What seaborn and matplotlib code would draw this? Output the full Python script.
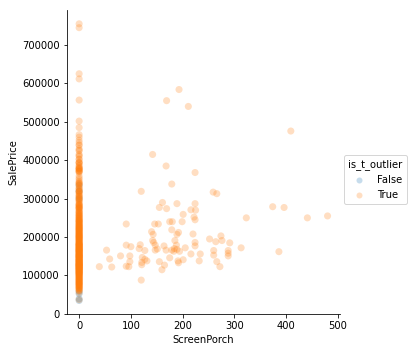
import numpy as np
import pandas as pd
import matplotlib
matplotlib.use("Agg")
import matplotlib.pyplot as plt
import seaborn as sns

# Houses with a screen porch (ScreenPorch > 0), all flagged True
porch_x = [168, 224, 179, 120, 259, 266, 161, 189, 224, 155,
           169, 216, 225, 374, 396, 201, 222, 224, 323, 441,
           480, 91, 146, 153, 175, 180, 199, 179, 140, 192,
           220, 143, 189, 252, 274, 264, 276, 142, 144, 185,
           224, 291, 91, 118, 100, 147, 164, 188, 224, 313,
           53, 116, 127, 147, 168, 179, 189, 194, 205, 183,
           151, 260, 234, 216, 260, 288, 288, 288, 386, 80,
           59, 98, 122, 127, 131, 121, 121, 98, 155, 165,
           175, 192, 201, 232, 266, 272, 39, 63, 91, 96,
           160, 120, 191, 184,
           142, 169, 193, 211, 409]
porch_price = [385000, 368000, 338000, 319000, 317000, 313000, 290000, 287000, 287000, 277000,
               274000, 271000, 270000, 279000, 277000, 259000, 252000, 245000, 250000, 250000,
               255000, 234000, 234000, 234000, 240000, 240000, 240000, 219000, 214000, 212000,
               208000, 207000, 207000, 195000, 203000, 188000, 191000, 191000, 186000, 191000,
               186000, 185000, 179000, 180000, 175000, 179000, 177000, 179000, 177000, 172000,
               166000, 170000, 165000, 166000, 166000, 166000, 168000, 163000, 172000, 163000,
               169000, 165000, 156000, 156000, 153000, 165000, 158000, 151000, 162000, 151000,
               143000, 151000, 147000, 142000, 138000, 134000, 128000, 136000, 136000, 127000,
               146000, 133000, 141000, 138000, 136000, 123000, 123000, 122000, 124000, 123000,
               115000, 88000, 138000, 170000,
               415000, 555000, 584000, 540000, 476000]

# Houses without a screen porch (ScreenPorch == 0), flagged True
zero_true_price = [
    755000, 745000, 625000, 611657, 556581, 501837, 485000, 466500, 460000, 451950,
    446261, 440000, 438780, 430000, 426000, 424870, 415298, 412500, 410000, 402861,
    402000, 395192, 394617, 392500, 392000, 386250, 385000, 381000, 380000, 378500,
    377500, 377426, 375000, 372500, 372402, 370878, 369900, 367294, 359100, 354000,
    350000, 345000, 342643, 340000, 339750, 337500, 335000, 332000, 328000, 326000,
    325000, 320000, 319900, 318000, 317000, 315000, 312000, 310000, 307000, 305000,
    302000, 300000, 297000, 295000, 293000, 290000, 287000, 285000, 284000, 282000,
    280000, 278000, 277500, 275000, 274900, 272000, 270000, 268000, 266000, 265000,
    262500, 260000, 258000, 256300, 255000, 253000, 250000, 249700, 248000, 245000,
    244000, 243000, 241500, 240000, 239000, 238000, 235000, 234000, 233000, 231500,
    230000, 228500, 228000, 226000, 225000, 223500, 223000, 221000, 220000, 219500,
    218000, 216500, 215000, 214000, 213000, 211000, 210000, 208500, 208000, 207500,
    205000, 204000, 203000, 202500, 201000, 200000, 198500, 198000, 196500, 195000,
    194500, 193000, 192000, 190000, 189000, 188000, 186000, 185000, 184000, 183000,
    181500, 181000, 180000, 179900, 179000, 178000, 177000, 176000, 175000, 174000,
    173000, 172500, 171000, 170000, 169500, 168500, 168000, 167000, 166000, 165000,
    164500, 163500, 163000, 162000, 161000, 160000, 159000, 158000, 157000, 156000,
    155000, 154000, 153500, 153000, 152000, 151000, 150000, 149000, 148500, 148000,
    147000, 146000, 145000, 144000, 143000, 142500, 141000, 140000, 139400, 139000,
    138000, 137000, 136500, 135500, 135000, 134000, 133000, 132000, 131000, 130000,
    129900, 129500, 128500, 128000, 127000, 126500, 125500, 125000, 124000, 123500,
    123000, 122000, 121000, 120000, 119000, 118500, 118000, 117000, 116000, 115000,
    114500, 113000, 112000, 111000, 110000, 109000, 108000, 107500, 106000, 105000,
    104000, 103000, 102000, 100000, 99000, 98000, 97000, 95000, 94000, 93000,
    91000, 90000, 88000, 87000, 85000, 84000, 83000, 82000, 80000, 79000,
    78000, 76500, 75000, 73000, 72000, 70000, 68500, 67000, 65000, 62383,
    61000, 60000, 55000, 37000,
    305900, 298000, 283000, 276000, 263000, 257500, 252000, 247000, 242000, 237000,
    232000, 227000, 222500, 217500, 212500, 206000, 201500, 197000, 191500, 187000,
    182000, 178500, 174500, 171500, 167500, 164000, 161500, 157500, 154500, 151500,
    149500, 146500, 143500, 140500, 137500, 134500, 131500, 128800, 126000, 124500,
    121500, 119500, 116500, 114000, 111500, 109500, 106500, 103500, 101000, 96500,
    92000, 89000, 86000, 81000, 77000, 74000, 69000, 66000,
]

# Houses without a screen porch, flagged False
zero_false_price = [34900, 39300, 52500, 58500, 301000, 320000, 335000]

hue_order = ["False", "True"]
palette = {"False": "#1f77b4", "True": "#ff7f0e"}

df = pd.concat([
    pd.DataFrame({"ScreenPorch": [0] * len(zero_false_price),
                  "SalePrice": zero_false_price, "is_t_outlier": "False"}),
    pd.DataFrame({"ScreenPorch": [0] * len(zero_true_price),
                  "SalePrice": zero_true_price, "is_t_outlier": "True"}),
    pd.DataFrame({"ScreenPorch": porch_x,
                  "SalePrice": porch_price, "is_t_outlier": "True"}),
], ignore_index=True)

plt.rcParams["font.family"] = ["DejaVu Sans"]
plt.rcParams["font.size"] = 10

fig = plt.figure(figsize=(408 / 72, 352 / 72), dpi=72)
ax = fig.add_axes([0.1635, 0.107, 0.8333 - 0.1635, 0.9716 - 0.107])

sns.scatterplot(data=df, x="ScreenPorch", y="SalePrice", hue="is_t_outlier",
                hue_order=hue_order, palette=palette, alpha=0.25, s=50,
                linewidth=0, ax=ax)

handles, labels = ax.get_legend_handles_labels()
for h in handles:
    try:
        h.set_markersize(6)
    except Exception:
        pass
ax.get_legend().remove()
fig.legend(handles, labels, title="is_t_outlier", loc="center left",
           bbox_to_anchor=(0.832, 0.489), fontsize=10, title_fontsize=10)

sns.despine(ax=ax)
ax.set_xticks([0, 100, 200, 300, 400, 500])
ax.set_yticks([0, 100000, 200000, 300000, 400000, 500000, 600000, 700000])
ax.ticklabel_format(axis="y", style="plain")
ax.set_xlabel("ScreenPorch")
ax.set_ylabel("SalePrice")

fig.savefig("out.png", dpi=72)
